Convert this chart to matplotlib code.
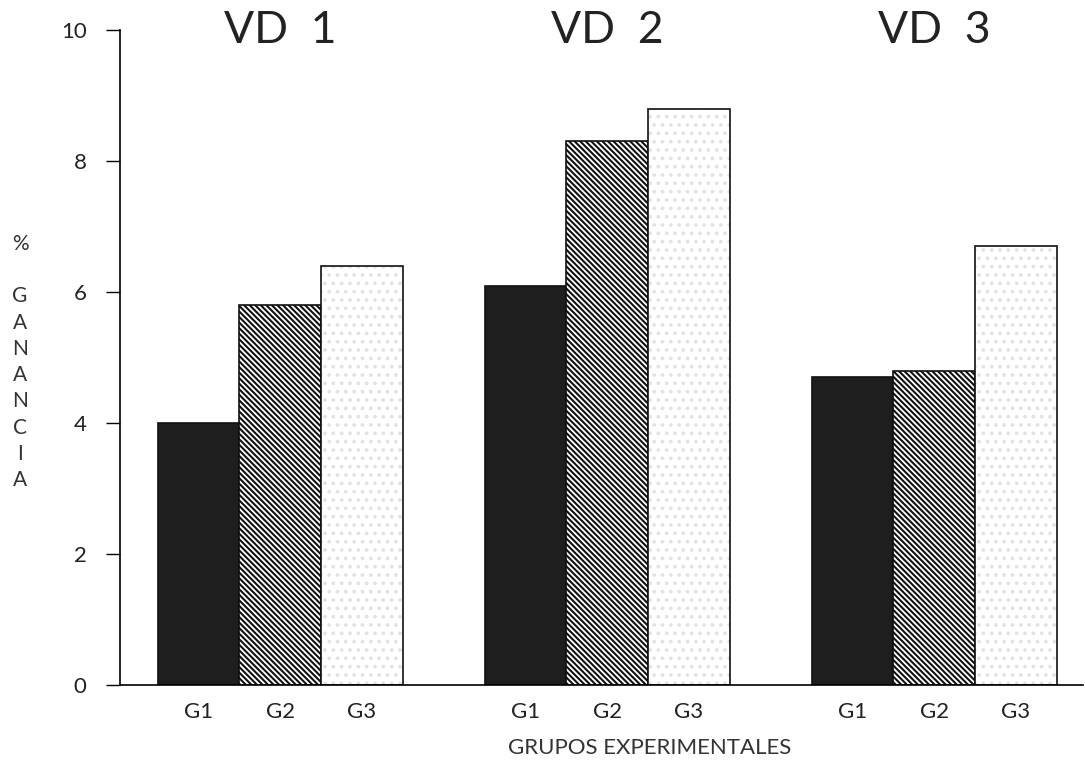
import matplotlib
matplotlib.use("Agg")
import matplotlib.pyplot as plt
import numpy as np

plt.rcParams["font.family"] = ["Lato", "DejaVu Sans"]
plt.rcParams["hatch.linewidth"] = 1.5

groups = ["VD  1", "VD  2", "VD  3"]
subgroups = ["G1", "G2", "G3"]
g1_vals = [4.0, 6.1, 4.7]
g2_vals = [5.8, 8.3, 4.8]
g3_vals = [6.4, 8.8, 6.7]
yticks = [0, 2, 4, 6, 8, 10]


def do_plot():
    fig = plt.figure(figsize=(10.85, 7.71), dpi=100)
    ax = fig.add_axes([0.1106, 0.1115, 0.8876, 0.8495])

    base = np.arange(len(groups)) * 4
    w = 1.0

    ax.bar(base, g1_vals, w, color="#1e1e1e", edgecolor="#111111", linewidth=1.2)
    ax.bar(base + 1, g2_vals, w, color="white", edgecolor="#111111",
           hatch="\\" * 6, linewidth=1.2)
    # faint dotted texture on G3, then the outline
    ax.bar(base + 2, g3_vals, w, color="white", edgecolor="#e2e2e2",
           hatch="..", linewidth=0)
    ax.bar(base + 2, g3_vals, w, color="none", edgecolor="#111111", linewidth=1.2)

    ax.set_xlim(-0.96, 10.82)
    ax.set_ylim(0, 10)
    ax.set_yticks(yticks)
    ax.set_yticklabels([str(t) for t in yticks], fontsize=16, color="#222222")

    xt = np.concatenate([base, base + 1, base + 2])
    xl = [subgroups[0]] * 3 + [subgroups[1]] * 3 + [subgroups[2]] * 3
    ax.set_xticks(xt)
    ax.set_xticklabels(xl, fontsize=16, color="#222222")
    ax.tick_params(axis="x", length=0, pad=12)
    ax.tick_params(axis="y", length=10, width=1, pad=14, direction="out")

    for s in ["top", "right"]:
        ax.spines[s].set_visible(False)
    ax.spines["left"].set_linewidth(1.2)
    ax.spines["bottom"].set_linewidth(1.2)

    for b, name in zip(base, groups):
        ax.text(b + 1, 10, name, ha="center", va="center", fontsize=32,
                color="#222222")

    fig.text(650 / 1085, 1 - 748 / 771, "GRUPOS EXPERIMENTALES", ha="center",
             va="center", fontsize=16, color="#333333")
    fig.text(20 / 1085, 1 - 234 / 771, "%\n\nG\nA\nN\nA\nN\nC\nI\nA",
             ha="center", va="top", fontsize=15, color="#333333",
             linespacing=1.39)

    fig.savefig("out.png", dpi=100)


if __name__ == "__main__":
    do_plot()
